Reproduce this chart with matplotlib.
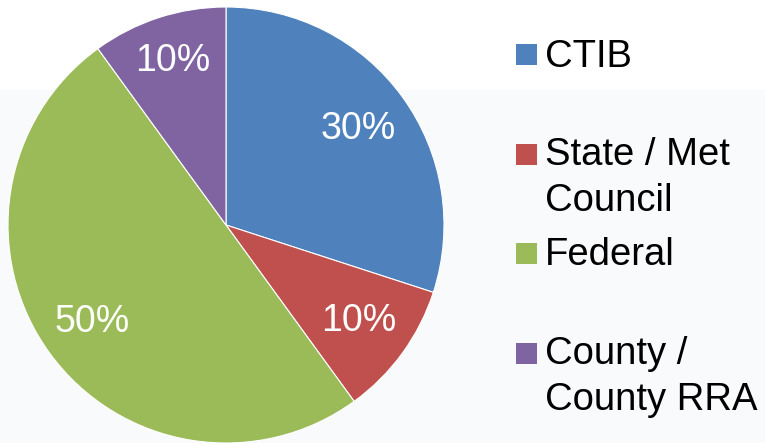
import matplotlib.pyplot as plt
from matplotlib.patches import Rectangle
import numpy as np

plt.rcParams['font.family'] = ['Liberation Sans', 'DejaVu Sans']

# funding shares
labels = ["CTIB", "State / Met\nCouncil", "Federal", "County /\nCounty RRA"]
shares = [30, 10, 50, 10]
colors = ["#4F81BD", "#C0504D", "#9BBB59", "#8064A2"]
pct_text = ["30%", "10%", "50%", "10%"]

W, H = 765, 443
fig = plt.figure(figsize=(W / 100, H / 100), dpi=100)
fig.patch.set_facecolor("white")

# faint background band below the top strip
fig.add_artist(Rectangle((0, 0), 1, (H - 90) / H, transform=fig.transFigure,
                         facecolor="#F9FAFC", edgecolor="none", zorder=0))

cx, cy, r = 226, 225, 218
ax = fig.add_axes([(cx - r) / W, (H - cy - r) / H, 2 * r / W, 2 * r / H])
ax.set_facecolor("none")

wedges, texts = ax.pie(shares, colors=colors, startangle=90, counterclock=False,
                       radius=1, wedgeprops=dict(edgecolor="white", linewidth=0.8))

# percentage labels inside slices
for w, t, d in zip(wedges, pct_text, [0.75, 0.75, 0.76, 0.79]):
    ang = np.deg2rad((w.theta1 + w.theta2) / 2)
    ax.text(d * np.cos(ang), d * np.sin(ang), t, color="white", fontsize=27,
            ha="center", va="center")
ax.set_xlim(-1, 1)
ax.set_ylim(-1, 1)
ax.axis("off")

# legend, laid out like the original slide
square_y = [54, 154, 253, 353]
baseline_y = [67, 165, 265, 364]
for col, lab, sy, by in zip(colors, labels, square_y, baseline_y):
    fig.add_artist(Rectangle((516 / W, 1 - (sy + 10.5) / H), 21 / W, 21 / H,
                             transform=fig.transFigure, facecolor=col,
                             edgecolor="none"))
    first, *rest = lab.split("\n")
    fig.text(545 / W, 1 - by / H, first, fontsize=27.5, color="black",
             ha="left", va="baseline")
    for i, line in enumerate(rest, start=1):
        fig.text(545 / W, 1 - (by + 46 * i) / H, line, fontsize=27.5,
                 color="black", ha="left", va="baseline")

fig.savefig("out.png", dpi=100, facecolor=fig.get_facecolor())
